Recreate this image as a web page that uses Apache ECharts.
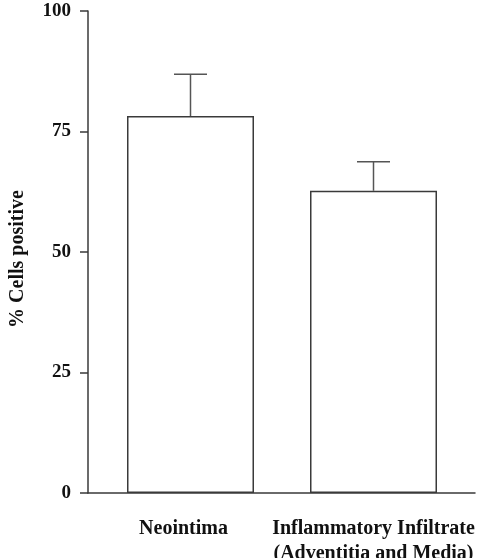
<!DOCTYPE html>
<html>
<head>
<meta charset="utf-8">
<script src="https://cdn.jsdelivr.net/npm/echarts@6/dist/echarts.min.js"></script>
<style>
  html, body { margin: 0; padding: 0; background: #fff; }
  #chart { width: 484px; height: 558px; }
</style>
</head>
<body>
<div id="chart"></div>
<script>
const categories = ['Neointima', 'Inflammatory Infiltrate\n(Adventitia and Media)']
const meanValues = [78.2, 62.7]
const errorTops = [86.9, 68.7]
const yTicks = [0, 25, 50, 75, 100]

const font = 'Liberation Serif, Times New Roman, serif'
const lineColor = '#3a3a3a'

const chart = echarts.init(document.getElementById('chart'))

const option = {
  animation: false,
  backgroundColor: '#fff',
  grid: [
    // bars
    { left: 99, width: 366, top: 11, bottom: 65, outerBoundsMode: 'none' },
    // axis frame
    { left: 88, right: 9, top: 11, bottom: 65, outerBoundsMode: 'none' },
  ],
  xAxis: [
    {
      type: 'category',
      gridIndex: 0,
      data: [
        { value: categories[0], textStyle: { padding: [0, 14, 0, 0] } },
        categories[1],
      ],
      axisLine: { show: false },
      axisTick: { show: false },
      axisLabel: {
        interval: 0,
        margin: 23,
        fontFamily: font,
        fontWeight: 'bold',
        fontSize: 20,
        lineHeight: 25,
        color: '#111',
      },
    },
    {
      type: 'value',
      gridIndex: 1,
      min: 0,
      max: 1,
      axisLine: { show: true, lineStyle: { color: lineColor, width: 1.5 } },
      axisTick: { show: false },
      axisLabel: { show: false },
      splitLine: { show: false },
    },
  ],
  yAxis: [
    {
      type: 'value',
      gridIndex: 0,
      min: yTicks[0],
      max: yTicks[yTicks.length - 1],
      interval: 25,
      offset: 11,
      name: '% Cells positive',
      nameLocation: 'middle',
      nameGap: 60,
      nameTextStyle: {
        fontFamily: font,
        fontWeight: 'bold',
        fontSize: 20,
        color: '#111',
        padding: [0, 14, 0, 0],
      },
      axisLine: { show: true, lineStyle: { color: lineColor, width: 1.5 } },
      axisTick: { show: true, length: 8, lineStyle: { color: lineColor, width: 1.5 } },
      axisLabel: {
        margin: 17,
        fontFamily: font,
        fontWeight: 'bold',
        fontSize: 19,
        color: '#111',
      },
      splitLine: { show: false },
    },
    {
      type: 'value',
      gridIndex: 1,
      min: 0,
      max: 100,
      show: false,
    },
  ],
  series: [
    {
      type: 'bar',
      xAxisIndex: 0,
      yAxisIndex: 0,
      barWidth: 127,
      data: meanValues,
      itemStyle: { color: '#fff', borderColor: lineColor, borderWidth: 1.5 },
      z: 2,
    },
    {
      type: 'custom',
      xAxisIndex: 0,
      yAxisIndex: 0,
      data: meanValues.map((v, i) => [i, v, errorTops[i]]),
      z: 3,
      renderItem: (params, api) => {
        const base = api.coord([api.value(0), api.value(1)])
        const top = api.coord([api.value(0), api.value(2)])
        const half = 16.5
        const style = { stroke: '#555', lineWidth: 1.5 }
        return {
          type: 'group',
          children: [
            { type: 'line', shape: { x1: base[0], y1: base[1], x2: top[0], y2: top[1] }, style },
            { type: 'line', shape: { x1: top[0] - half, y1: top[1], x2: top[0] + half, y2: top[1] }, style },
          ],
        }
      },
    },
  ],
}

chart.setOption(option)
</script>
</body>
</html>
